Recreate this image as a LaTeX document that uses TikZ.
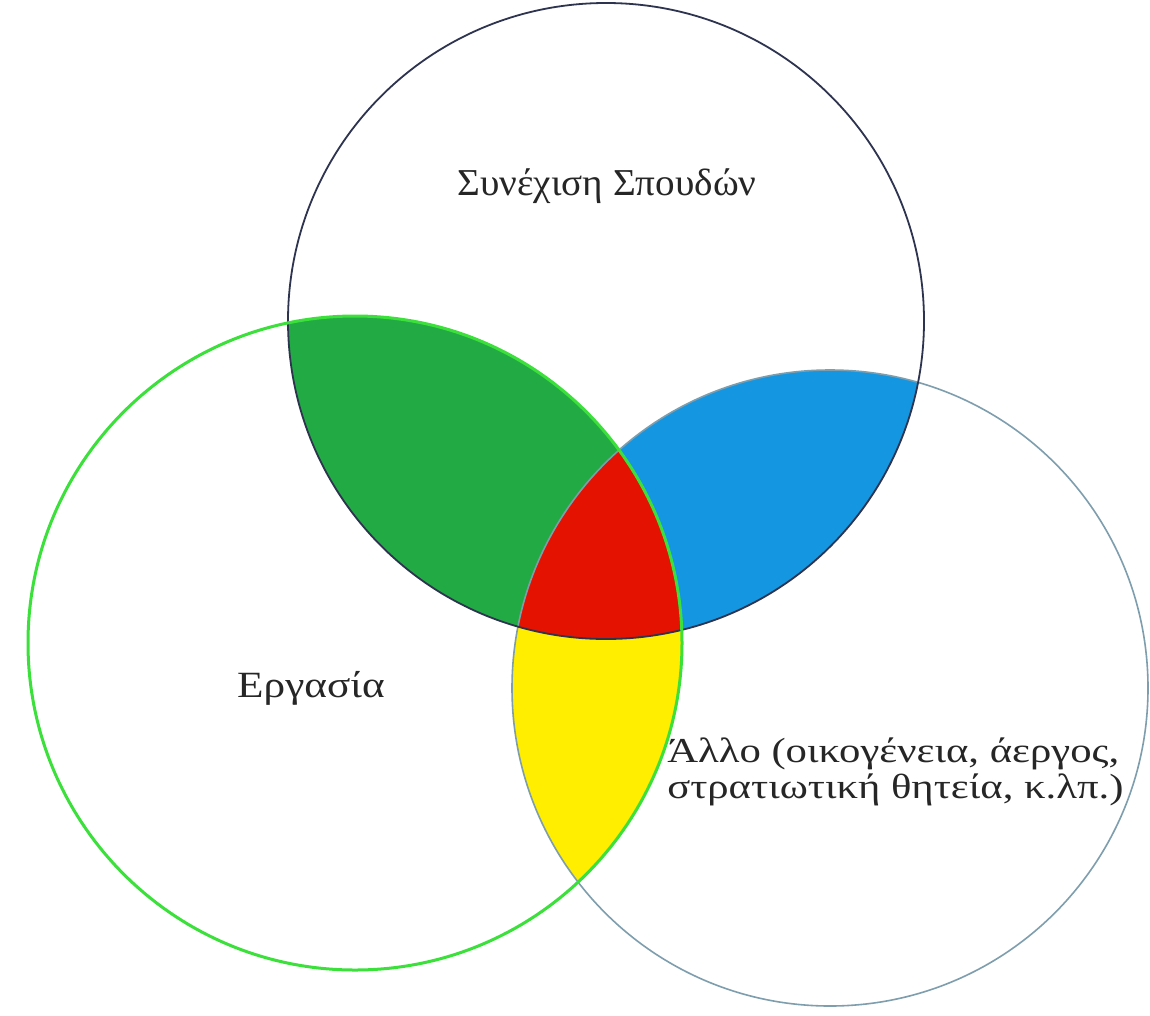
\documentclass[tikz,border=0pt]{standalone}
\usepackage{fontspec}
\setmainfont{Liberation Serif}
\definecolor{topline}{HTML}{2E3350}
\definecolor{leftline}{HTML}{3BE03B}
\definecolor{rightline}{HTML}{7E9EAE}
\definecolor{regA}{HTML}{22AA44}
\definecolor{regB}{HTML}{1496E0}
\definecolor{regC}{HTML}{E41200}
\definecolor{regD}{HTML}{FFEE00}
\tikzset{lbl/.style={font=\fontsize{37}{42}\selectfont, text=black!85, inner sep=0pt}}
\begin{document}
\begin{tikzpicture}[x=1pt,y=-1pt]
\useasboundingbox[fill=white] (0,0) rectangle (1150,1015);
\coordinate (T) at (606,321);
\coordinate (L) at (355,643);
\coordinate (R) at (830,688);
\def\rT{318}\def\rL{327}\def\rR{318}
% regions
\begin{scope}
\clip (T) circle (\rT);
\clip (L) circle (\rL);
\fill[regA] (0,0) rectangle (1150,1015);
\end{scope}
\begin{scope}
\clip (T) circle (\rT);
\clip (R) circle (\rR);
\fill[regB] (0,0) rectangle (1150,1015);
\end{scope}
\begin{scope}
\clip (L) circle (\rL);
\clip (R) circle (\rR);
\fill[regD] (0,0) rectangle (1150,1015);
\end{scope}
\begin{scope}
\clip (T) circle (\rT);
\clip (L) circle (\rL);
\clip (R) circle (\rR);
\fill[regC] (0,0) rectangle (1150,1015);
\end{scope}
% outlines
\draw[rightline, line width=1.6pt] (R) circle (\rR);
\draw[topline, line width=1.8pt] (T) circle (\rT);
\draw[leftline, line width=3pt] (L) circle (\rL);
% labels
\node[lbl, font=\fontsize{38}{42}\selectfont, xscale=1.03] (top) at (607,186) {Συνέχιση Σπουδών};
\node[lbl, xscale=1.17] (work) at (311,688) {Εργασία};
\node[lbl, anchor=west, align=left, font=\fontsize{35}{36}\selectfont, xscale=1.22] (other) at (667,772) {Άλλο (οικογένεια, άεργος,\\στρατιωτική θητεία, κ.λπ.)};
\end{tikzpicture}
\end{document}
